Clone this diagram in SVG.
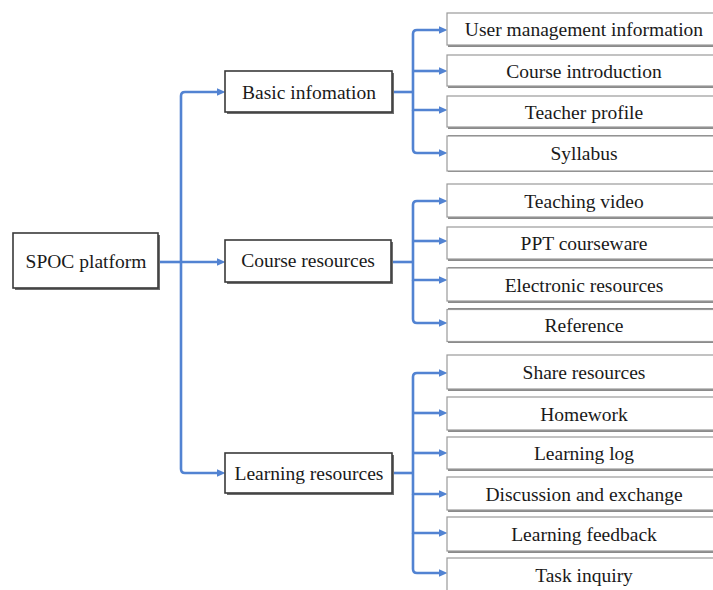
<svg xmlns="http://www.w3.org/2000/svg" width="713" height="590" viewBox="0 0 713 590">
  <style>
    text { font-family: "Liberation Serif", "Times New Roman", serif; font-size: 19.5px; fill: #1a1a1a; text-anchor: middle; dominant-baseline: central; }
    .shadow { fill: #6e6e6e; }
    .main { fill: #ffffff; stroke: #3a3a3a; stroke-width: 1.6; }
    .leaf { fill: #ffffff; stroke: #9a9a9a; stroke-width: 1.2; }
    .leaf-shadow { fill: #8a8a8a; }
    .wire { fill: none; stroke: #5283d2; stroke-width: 2.6; stroke-linejoin: round; }
  </style>
  <defs>
    <marker id="arrow" markerUnits="userSpaceOnUse" markerWidth="10" markerHeight="9" refX="2.5" refY="4.5" orient="auto">
      <path d="M0,0.5 L9,4.5 L0,8.5 z" fill="#5283d2"/>
    </marker>
  </defs>
  <rect width="713" height="590" fill="#ffffff"/>

  <!-- connectors -->
  <g id="connectors">
    <!-- root to first level -->
    <path class="wire" d="M158,262 H181"/>
    <path class="wire" d="M181,262 V96 Q181,92 185,92 H219" marker-end="url(#arrow)"/>
    <path class="wire" d="M181,262 H219" marker-end="url(#arrow)"/>
    <path class="wire" d="M181,262 V469 Q181,473 185,473 H219" marker-end="url(#arrow)"/>

    <!-- basic information branch -->
    <path class="wire" d="M393,92 H413"/>
    <path class="wire" d="M413,92 V34 Q413,30 417,30 H441" marker-end="url(#arrow)"/>
    <path class="wire" d="M413,71 H441" marker-end="url(#arrow)"/>
    <path class="wire" d="M413,92 V110 H441" marker-end="url(#arrow)"/>
    <path class="wire" d="M413,110 V149 Q413,153 417,153 H441" marker-end="url(#arrow)"/>

    <!-- course resources branch -->
    <path class="wire" d="M392,262 H413"/>
    <path class="wire" d="M413,262 V205 Q413,201 417,201 H441" marker-end="url(#arrow)"/>
    <path class="wire" d="M413,241 H441" marker-end="url(#arrow)"/>
    <path class="wire" d="M413,262 V280 H441" marker-end="url(#arrow)"/>
    <path class="wire" d="M413,280 V319 Q413,323 417,323 H441" marker-end="url(#arrow)"/>

    <!-- learning resources branch -->
    <path class="wire" d="M393,473 H413"/>
    <path class="wire" d="M413,473 V377 Q413,373 417,373 H441" marker-end="url(#arrow)"/>
    <path class="wire" d="M413,413 H441" marker-end="url(#arrow)"/>
    <path class="wire" d="M413,453 H441" marker-end="url(#arrow)"/>
    <path class="wire" d="M413,473 V494 H441" marker-end="url(#arrow)"/>
    <path class="wire" d="M413,494 V533 H441" marker-end="url(#arrow)"/>
    <path class="wire" d="M413,533 V569 Q413,573 417,573 H441" marker-end="url(#arrow)"/>
  </g>

  <!-- root -->
  <g id="spoc-platform">
    <rect class="shadow" x="15" y="235" width="145" height="55"/>
    <rect class="main" x="13" y="233" width="145" height="55"/>
    <text x="86" y="261">SPOC platform</text>
  </g>

  <!-- first level -->
  <g id="basic-information">
    <rect class="shadow" x="227" y="73" width="167" height="41"/>
    <rect class="main" x="225" y="71" width="167" height="41"/>
    <text x="309" y="92">Basic infomation</text>
  </g>
  <g id="course-resources">
    <rect class="shadow" x="227" y="242" width="166" height="42"/>
    <rect class="main" x="225" y="240" width="166" height="42"/>
    <text x="308" y="260">Course resources</text>
  </g>
  <g id="learning-resources">
    <rect class="shadow" x="227" y="455" width="167" height="40"/>
    <rect class="main" x="225" y="453" width="167" height="40"/>
    <text x="309" y="473">Learning resources</text>
  </g>

  <!-- leaves: basic information -->
  <g id="user-management-information">
    <rect class="leaf-shadow" x="448" y="14" width="275" height="33"/>
    <rect class="leaf" x="447" y="13" width="275" height="32"/>
    <text x="584" y="29">User management information</text>
  </g>
  <g id="course-introduction">
    <rect class="leaf-shadow" x="448" y="56" width="275" height="32"/>
    <rect class="leaf" x="447" y="55" width="275" height="31"/>
    <text x="584" y="71">Course introduction</text>
  </g>
  <g id="teacher-profile">
    <rect class="leaf-shadow" x="448" y="97" width="275" height="32"/>
    <rect class="leaf" x="447" y="96" width="275" height="31"/>
    <text x="584" y="112">Teacher profile</text>
  </g>
  <g id="syllabus">
    <rect class="leaf-shadow" x="448" y="135" width="275" height="37"/>
    <rect class="leaf" x="447" y="136" width="275" height="35"/>
    <text x="584" y="153">Syllabus</text>
  </g>

  <!-- leaves: course resources -->
  <g id="teaching-video">
    <rect class="leaf-shadow" x="448" y="185" width="275" height="34"/>
    <rect class="leaf" x="447" y="184" width="275" height="33"/>
    <text x="584" y="201">Teaching video</text>
  </g>
  <g id="ppt-courseware">
    <rect class="leaf-shadow" x="448" y="228" width="275" height="33"/>
    <rect class="leaf" x="447" y="227" width="275" height="32"/>
    <text x="584" y="243">PPT courseware</text>
  </g>
  <g id="electronic-resources">
    <rect class="leaf-shadow" x="448" y="267" width="275" height="36"/>
    <rect class="leaf" x="447" y="268" width="275" height="33"/>
    <text x="584" y="285">Electronic resources</text>
  </g>
  <g id="reference">
    <rect class="leaf-shadow" x="448" y="308" width="275" height="35"/>
    <rect class="leaf" x="447" y="309.5" width="275" height="32"/>
    <text x="584" y="325">Reference</text>
  </g>

  <!-- leaves: learning resources -->
  <g id="share-resources">
    <rect class="leaf-shadow" x="448" y="356" width="275" height="35"/>
    <rect class="leaf" x="447" y="355" width="275" height="34"/>
    <text x="584" y="372">Share resources</text>
  </g>
  <g id="homework">
    <rect class="leaf-shadow" x="448" y="398" width="275" height="34"/>
    <rect class="leaf" x="447" y="397" width="275" height="33"/>
    <text x="584" y="414">Homework</text>
  </g>
  <g id="learning-log">
    <rect class="leaf-shadow" x="448" y="438" width="275" height="33"/>
    <rect class="leaf" x="447" y="437" width="275" height="32"/>
    <text x="584" y="453">Learning log</text>
  </g>
  <g id="discussion-and-exchange">
    <rect class="leaf-shadow" x="448" y="478" width="275" height="34"/>
    <rect class="leaf" x="447" y="477" width="275" height="33"/>
    <text x="584" y="494">Discussion and exchange</text>
  </g>
  <g id="learning-feedback">
    <rect class="leaf-shadow" x="448" y="518" width="275" height="35"/>
    <rect class="leaf" x="447" y="517" width="275" height="34"/>
    <text x="584" y="534">Learning feedback</text>
  </g>
  <g id="task-inquiry">
    <rect class="leaf-shadow" x="448" y="559" width="275" height="40"/>
    <rect class="leaf" x="447" y="558" width="275" height="40"/>
    <text x="584" y="575">Task inquiry</text>
  </g>
</svg>
